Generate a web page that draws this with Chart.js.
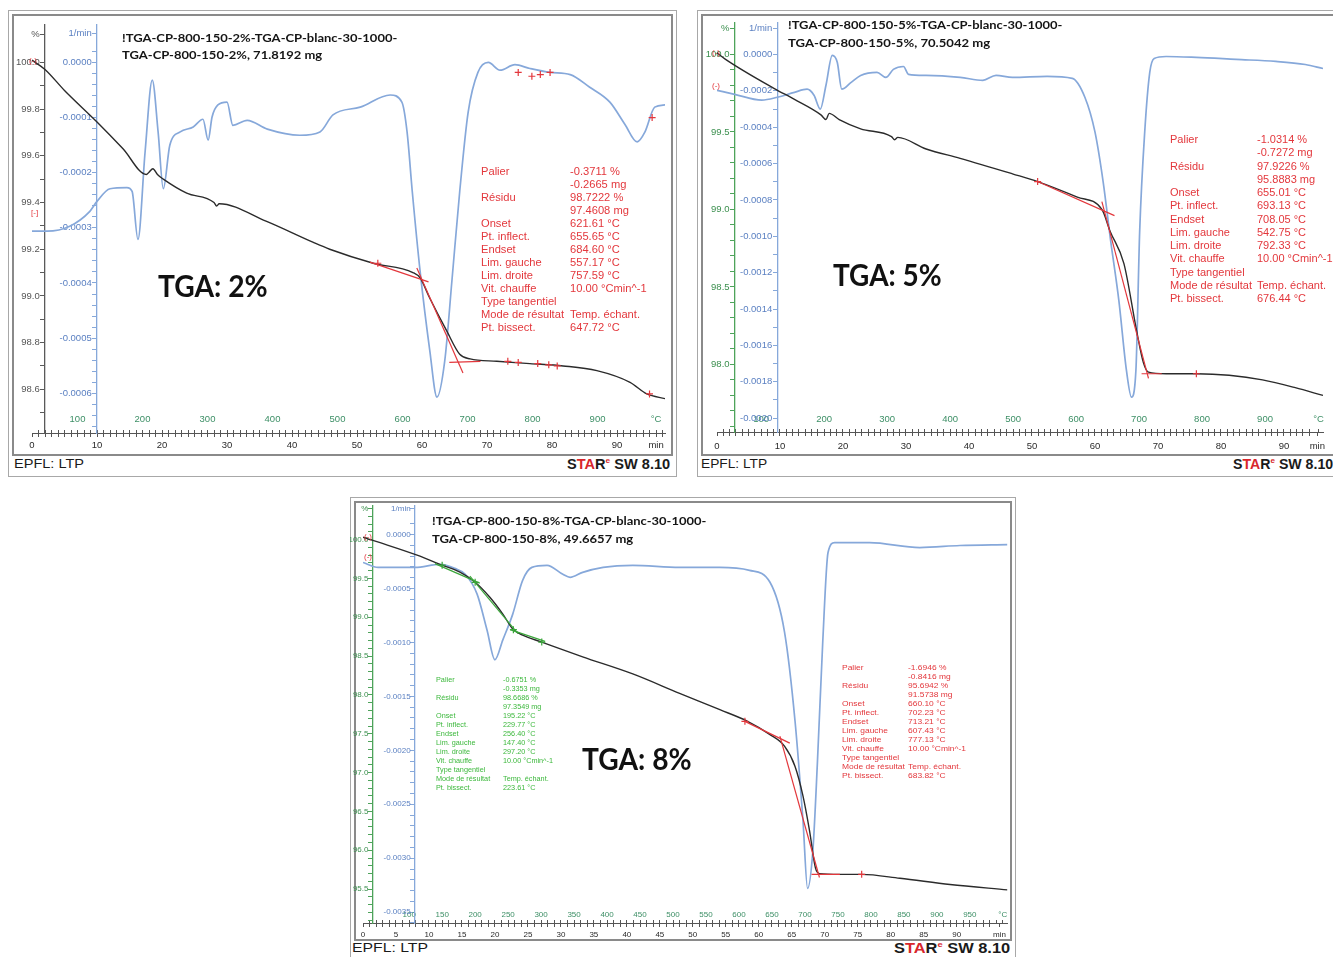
<!DOCTYPE html>
<html><head><meta charset="utf-8">
<script src="https://cdn.jsdelivr.net/npm/chart.js@4.4.1/dist/chart.umd.min.js"></script>
<style>
html,body{margin:0;padding:0;background:#fff;}
body{width:1333px;height:957px;position:relative;overflow:hidden;}
.abs{position:absolute;white-space:nowrap;line-height:1;}
.box{position:absolute;box-sizing:border-box;}
canvas{position:absolute;}
</style></head><body>
<div class="box" style="left:8px;top:10px;width:669px;height:467px;border:1px solid #a8a8a8"></div>
<div class="box" style="left:12px;top:14px;width:661px;height:442px;border:2px solid #8a8a8a"></div>
<div class="box" style="left:697px;top:10px;width:645px;height:467px;border:1px solid #a8a8a8"></div>
<div class="box" style="left:701px;top:14px;width:640px;height:442px;border:2px solid #8a8a8a"></div>
<div class="box" style="left:350px;top:497px;width:666px;height:470px;border:1px solid #a8a8a8"></div>
<div class="box" style="left:354px;top:501px;width:658px;height:440px;border:2px solid #8a8a8a"></div>
<script>
// ================= DATA =================
// Panel 1 : TGA 2 %
const p1MassTime = [0, 2, 5, 10, 14, 17.6, 18.0, 18.6, 19.3, 20.2, 23.8, 28.0, 28.4, 28.8, 36, 43.2, 45.8, 52.5, 58.6, 59.7, 61.2, 63.8, 65.8, 67.4, 71.5, 76.6, 81.7, 86.9, 92.0, 94.6, 97.4];
const p1Mass     = [100.01, 99.97, 99.88, 99.745, 99.63, 99.52, 99.53, 99.545, 99.52, 99.50, 99.44, 99.40, 99.385, 99.395, 99.32, 99.23, 99.20, 99.14, 99.10, 99.077, 98.99, 98.85, 98.75, 98.73, 98.72, 98.71, 98.70, 98.68, 98.63, 98.58, 98.56];
const p1DtgTime  = [0, 2.3, 5.8, 8.9, 10, 12, 14.6, 15.4, 16.3, 17.4, 18.5, 19.4, 20.2, 21.2, 22.8, 24.8, 26.3, 27.1, 27.7, 28.6, 30, 30.9, 33.1, 36.2, 41.2, 44.3, 46.3, 50.5, 55.1, 56.9, 57.7, 58.5, 59.7, 61.2, 62.3, 63.5, 64.6, 65.8, 67.1, 68.6, 70.2, 72, 74.3, 76.6, 79.7, 82.8, 85.8, 88.9, 91.2, 93.1, 94.3, 95.8, 97.4];
const p1Dtg      = [-3.06e-4, -3.06e-4, -2.97e-4, -2.70e-4, -2.52e-4, -2.29e-4, -2.27e-4, -2.34e-4, -3.21e-4, -1.62e-4, -0.32e-4, -1.26e-4, -2.29e-4, -1.5e-4, -1.26e-4, -1.17e-4, -1.03e-4, -1.41e-4, -0.99e-4, -0.77e-4, -0.72e-4, -1.14e-4, -1.05e-4, -1.21e-4, -1.32e-4, -1.26e-4, -0.95e-4, -0.81e-4, -0.59e-4, -0.72e-4, -1.26e-4, -2.34e-4, -3.78e-4, -5.23e-4, -6.07e-4, -5.41e-4, -3.96e-4, -2.34e-4, -0.90e-4, -0.18e-4, 0, -0.14e-4, -0.04e-4, -0.11e-4, -0.18e-4, -0.22e-4, -0.45e-4, -0.72e-4, -1.12e-4, -1.44e-4, -1.26e-4, -0.81e-4, -0.77e-4];
const p1Tangents = [[[52, 99.145], [61, 99.06]], [[59.2, 99.12], [66.3, 98.67]], [[64.2, 98.715], [69, 98.72]]];
const p1Marks    = [[53.2, 99.14], [73.2, 98.72], [74.8, 98.715], [77.8, 98.71], [79.5, 98.705], [80.8, 98.70], [95.0, 98.58]];
const p1DtgMarks = [[74.8, -0.18e-4], [76.9, -0.25e-4], [78.2, -0.22e-4], [79.7, -0.18e-4], [95.4, -1.0e-4]];
const p1TimeAt  = [0, 10, 20, 30, 40, 50, 60, 70, 80, 90, 96];
const p1TimeTxt = ['0', '10', '20', '30', '40', '50', '60', '70', '80', '90', 'min'];
const p1TempAt  = [100, 200, 300, 400, 500, 600, 700, 800, 900, 990];
const p1TempTxt = ['100', '200', '300', '400', '500', '600', '700', '800', '900', '°C'];
const p1PctAt   = [100.12, 100.0, 99.8, 99.6, 99.4, 99.2, 99.0, 98.8, 98.6];
const p1PctTxt  = ['%', '100.0', '99.8', '99.6', '99.4', '99.2', '99.0', '98.8', '98.6'];
const p1DtgAt   = [5.2e-5, 0, -1e-4, -2e-4, -3e-4, -4e-4, -5e-4, -6e-4];
const p1DtgTxt  = ['1/min', '0.0000', '-0.0001', '-0.0002', '-0.0003', '-0.0004', '-0.0005', '-0.0006'];
const p1Ann = [['Palier','-0.3711 %'],['','-0.2665 mg'],['Résidu','98.7222 %'],['','97.4608 mg'],['Onset','621.61 °C'],['Pt. inflect.','655.65 °C'],['Endset','684.60 °C'],['Lim. gauche','557.17 °C'],['Lim. droite','757.59 °C'],['Vit. chauffe','10.00 °Cmin^-1'],['Type tangentiel',''],['Mode de résultat','Temp. échant.'],['Pt. bissect.','647.72 °C']];

// Panel 2 : TGA 5 %
const p2MassTime = [0, 1.3, 9.1, 12.3, 16.5, 17.3, 17.8, 19.4, 22.8, 27.7, 28.2, 28.7, 33.2, 38.6, 46.9, 50.9, 57.2, 61.1, 62.4, 64.6, 66.6, 67.7, 68.5, 71.3, 76.1, 81.3, 86.6, 91.8, 96.2];
const p2Mass     = [100.01, 99.97, 99.78, 99.71, 99.61, 99.58, 99.62, 99.58, 99.52, 99.47, 99.45, 99.465, 99.39, 99.33, 99.23, 99.18, 99.08, 99.00, 98.86, 98.65, 98.22, 98.01, 97.95, 97.94, 97.94, 97.93, 97.90, 97.85, 97.80];
const p2DtgTime  = [0, 2.8, 7.1, 9.6, 12.3, 14.3, 15.4, 16.4, 17.3, 18.3, 19.1, 19.8, 21.3, 22.8, 25.4, 26.8, 28.0, 29.6, 30.4, 33.2, 38.6, 42.2, 44.3, 46.9, 52.4, 56.4, 58.4, 60.0, 61.3, 62.5, 63.8, 65.0, 65.8, 66.5, 67.1, 67.9, 68.7, 69.4, 71.3, 76.1, 82.4, 88.7, 93.4, 96.2];
const p2Dtg      = [-1.97e-4, -2.19e-4, -2.51e-4, -2.35e-4, -2.08e-4, -1.91e-4, -2.24e-4, -3.0e-4, -1.69e-4, -0.05e-4, -0.44e-4, -1.91e-4, -1.53e-4, -1.15e-4, -0.98e-4, -1.26e-4, -0.82e-4, -0.66e-4, -1.09e-4, -1.15e-4, -1.26e-4, -1.42e-4, -1.15e-4, -1.26e-4, -1.2e-4, -1.31e-4, -2.35e-4, -4.26e-4, -7.0e-4, -10.27e-4, -13.55e-4, -17.38e-4, -18.85e-4, -17.38e-4, -9.73e-4, -4.26e-4, -0.98e-4, -0.22e-4, -0.11e-4, -0.16e-4, -0.27e-4, -0.38e-4, -0.55e-4, -0.77e-4];
const p2Tangents = [[[50.9, 99.18], [63.1, 98.96]], [[61.1, 99.05], [68.5, 97.91]], [[67.4, 97.94], [70.6, 97.94]]];
const p2Marks    = [[50.9, 99.18], [76.1, 97.94]];
const p2TimeAt  = [0, 10, 20, 30, 40, 50, 60, 70, 80, 90, 95.3];
const p2TimeTxt = ['0', '10', '20', '30', '40', '50', '60', '70', '80', '90', 'min'];
const p2TempAt  = [100, 200, 300, 400, 500, 600, 700, 800, 900, 985];
const p2TempTxt = ['100', '200', '300', '400', '500', '600', '700', '800', '900', '°C'];
const p2PctAt   = [100.17, 100.0, 99.5, 99.0, 98.5, 98.0];
const p2PctTxt  = ['%', '100.0', '99.5', '99.0', '98.5', '98.0'];
const p2DtgAt   = [1.45e-4, 0, -2e-4, -4e-4, -6e-4, -8e-4, -10e-4, -12e-4, -14e-4, -16e-4, -18e-4, -20e-4];
const p2DtgTxt  = ['1/min', '0.0000', '-0.0002', '-0.0004', '-0.0006', '-0.0008', '-0.0010', '-0.0012', '-0.0014', '-0.0016', '-0.0018', '-0.0020'];
const p2Ann = [['Palier','-1.0314 %'],['','-0.7272 mg'],['Résidu','97.9226 %'],['','95.8883 mg'],['Onset','655.01 °C'],['Pt. inflect.','693.13 °C'],['Endset','708.05 °C'],['Lim. gauche','542.75 °C'],['Lim. droite','792.33 °C'],['Vit. chauffe','10.00 °Cmin^-1'],['Type tangentiel',''],['Mode de résultat','Temp. échant.'],['Pt. bissect.','676.44 °C']];

// Panel 3 : TGA 8 %
const p3MassTime = [0, 2.6, 8.2, 12.0, 14.7, 17.0, 19.2, 21.2, 22.7, 24.2, 27.1, 33.3, 40.9, 48.0, 54.1, 58.3, 61.7, 63.9, 65.5, 66.7, 67.7, 68.6, 69.2, 72.3, 75.6, 81.4, 89.0, 97.7];
const p3Mass     = [100.03, 99.96, 99.80, 99.67, 99.58, 99.45, 99.26, 99.04, 98.85, 98.77, 98.68, 98.49, 98.27, 98.02, 97.81, 97.66, 97.49, 97.34, 97.08, 96.70, 96.25, 95.77, 95.70, 95.69, 95.69, 95.64, 95.56, 95.49];
const p3DtgTime  = [0, 2.3, 4.8, 7.9, 11.7, 13.9, 15.5, 17.3, 18.8, 20.0, 21.2, 22.7, 24.2, 25.6, 27.9, 30.3, 31.4, 33.3, 36.4, 40.9, 48.0, 54.1, 58.6, 61.7, 63.9, 65.5, 66.7, 67.4, 68.2, 68.9, 69.7, 70.5, 71.5, 76.8, 84.4, 90.5, 97.7];
const p3Dtg      = [-2.58e-4, -3.04e-4, -3.04e-4, -3.04e-4, -2.76e-4, -3.13e-4, -3.68e-4, -5.52e-4, -8.84e-4, -11.6e-4, -9.76e-4, -7.37e-4, -4.24e-4, -3.04e-4, -2.85e-4, -3.68e-4, -3.96e-4, -3.50e-4, -3.04e-4, -2.85e-4, -3.04e-4, -3.04e-4, -3.31e-4, -4.42e-4, -9.02e-4, -17.3e-4, -26.5e-4, -32.8e-4, -29.3e-4, -21.0e-4, -9.94e-4, -1.66e-4, -0.74e-4, -0.74e-4, -1.20e-4, -1.01e-4, -0.92e-4];
const p3GreenTangents = [[[10.9, 99.69], [17.7, 99.44]], [[16.2, 99.53], [23.5, 98.79]], [[22.3, 98.84], [27.6, 98.69]]];
const p3GreenMarks    = [[12.0, 99.67], [17.0, 99.45], [22.8, 98.84], [27.1, 98.68]];
const p3RedTangents   = [[[57.9, 97.66], [64.7, 97.38]], [[63.2, 97.47], [69.2, 95.65]], [[68.0, 95.69], [72.3, 95.69]]];
const p3RedMarks      = [[57.9, 97.66], [75.6, 95.69]];
const p3TimeAt  = [0, 5, 10, 15, 20, 25, 30, 35, 40, 45, 50, 55, 60, 65, 70, 75, 80, 85, 90, 96.5];
const p3TimeTxt = ['0', '5', '10', '15', '20', '25', '30', '35', '40', '45', '50', '55', '60', '65', '70', '75', '80', '85', '90', 'min'];
const p3TempAt  = [100, 150, 200, 250, 300, 350, 400, 450, 500, 550, 600, 650, 700, 750, 800, 850, 900, 950, 1000];
const p3TempTxt = ['100', '150', '200', '250', '300', '350', '400', '450', '500', '550', '600', '650', '700', '750', '800', '850', '900', '950', '°C'];
const p3PctAt   = [100.40, 100.0, 99.5, 99.0, 98.5, 98.0, 97.5, 97.0, 96.5, 96.0, 95.5];
const p3PctTxt  = ['%', '100.0', '99.5', '99.0', '98.5', '98.0', '97.5', '97.0', '96.5', '96.0', '95.5'];
const p3DtgAt   = [2.4e-4, 0, -5e-4, -10e-4, -15e-4, -20e-4, -25e-4, -30e-4, -35e-4];
const p3DtgTxt  = ['1/min', '0.0000', '-0.0005', '-0.0010', '-0.0015', '-0.0020', '-0.0025', '-0.0030', '-0.0035'];
const p3GreenAnn = [['Palier','-0.6751 %'],['','-0.3353 mg'],['Résidu','98.6686 %'],['','97.3549 mg'],['Onset','195.22 °C'],['Pt. inflect.','229.77 °C'],['Endset','256.40 °C'],['Lim. gauche','147.40 °C'],['Lim. droite','297.20 °C'],['Vit. chauffe','10.00 °Cmin^-1'],['Type tangentiel',''],['Mode de résultat','Temp. échant.'],['Pt. bissect.','223.61 °C']];
const p3RedAnn = [['Palier','-1.6946 %'],['','-0.8416 mg'],['Résidu','95.6942 %'],['','91.5738 mg'],['Onset','660.10 °C'],['Pt. inflect.','702.23 °C'],['Endset','713.21 °C'],['Lim. gauche','607.43 °C'],['Lim. droite','777.13 °C'],['Vit. chauffe','10.00 °Cmin^-1'],['Type tangentiel',''],['Mode de résultat','Temp. échant.'],['Pt. bissect.','683.82 °C']];

// ================= HELPERS =================
const FONT = '"Liberation Sans", Arial, Helvetica, sans-serif';
Chart.defaults.font.family = FONT;
const RED = '#e3373c', GREEN_T = '#3cb83c', BLUE = '#86a8da', BLUE_TXT = '#5b80c2', GREEN_AX = '#4ea35a', GREEN_TXT = '#3b8f4e', TEMP_TXT = '#3d8f66';

function zip(a, b) { return a.map((v, i) => ({x: v, y: b[i]})); }
function pairs(arr) { return arr.map(p => ({x: p[0], y: p[1]})); }
function rng(a, b, step) { const out = []; const n = Math.round((b - a) / step); for (let i = 0; i <= n; i++) out.push(+(a + i * step).toFixed(9)); return out; }
function tickSet(minor, at, step) {
  const extra = at.filter(a => !minor.some(m => Math.abs(m - a) < step * 1e-6));
  const keep = minor.filter(m => !extra.some(a => Math.abs(a - m) < step * 0.75));
  return keep.concat(extra).sort((a, b) => a - b).map(v => ({value: v}));
}
function labeler(at, txt, suffix) {
  return v => { for (let i = 0; i < at.length; i++) if (Math.abs(at[i] - v) < 1e-9) return txt[i] + (suffix || ''); return ''; };
}

function panel(C) {
  const cv = document.createElement('canvas');
  cv.width = C.w; cv.height = C.h;
  Object.assign(cv.style, {left: C.left + 'px', top: C.top + 'px', width: C.w + 'px', height: C.h + 'px'});
  document.body.appendChild(cv);
  const ds = [
    {data: zip(C.dtgT, C.dtg), yAxisID: 'y2', borderColor: BLUE, borderWidth: 1.7, order: 3},
    {data: zip(C.massT, C.mass), yAxisID: 'y', borderColor: '#2b2b2b', borderWidth: 1.4, order: 2}
  ];
  C.tangents.forEach(t => t.segs.forEach(s => ds.push({data: pairs(s), yAxisID: 'y', borderColor: t.color, borderWidth: 1.2, order: 1, tension: 0, cubicInterpolationMode: 'default'})));
  C.marks.forEach(m => ds.push({data: pairs(m.pts), yAxisID: m.axis, showLine: false, pointStyle: 'cross', pointRadius: 3.5, pointBorderColor: m.color, pointBorderWidth: 1.2, order: 0}));
  const tf = {size: C.fs};
  new Chart(cv, {
    type: 'line',
    data: {datasets: ds},
    options: {
      responsive: false, animation: false, events: [], devicePixelRatio: 1,
      layout: {padding: C.pad, autoPadding: false},
      elements: {point: {radius: 0}, line: {cubicInterpolationMode: 'monotone', fill: false}},
      plugins: {legend: {display: false}, tooltip: {enabled: false}},
      scales: {
        x: {type: 'linear', min: 0, max: C.xMax, position: {y: C.yMin},
          afterBuildTicks: s => { s.ticks = tickSet(rng(0, C.tMinorMax, 1), C.timeAt, 1); },
          ticks: {autoSkip: false, maxRotation: 0, minRotation: 0, padding: C.timePad, color: '#2a2a2a', font: tf, callback: labeler(C.timeAt, C.timeTxt)},
          grid: {drawOnChartArea: false, tickLength: 3, tickColor: '#555', tickWidth: 1}, border: {color: '#555', width: 1}},
        x2: {type: 'linear', axis: 'x', min: 30, max: 30 + 10 * C.xMax, position: {y: C.yMin},
          afterBuildTicks: s => { s.ticks = tickSet(rng(40, C.tempMinorMax, 10), C.tempAt, 10); },
          ticks: {autoSkip: false, maxRotation: 0, minRotation: 0, padding: C.tempPad, color: TEMP_TXT, font: tf, callback: labeler(C.tempAt, C.tempTxt)},
          grid: {drawOnChartArea: false, tickLength: -3, tickColor: '#555', tickWidth: 1}, border: {display: false}},
        y: {type: 'linear', min: C.yMin, max: C.yMax, position: {x: C.pctAt},
          afterBuildTicks: s => { s.ticks = tickSet(rng(C.pctMinor[0], C.pctMinor[1], C.pctMinor[2]), C.pctLabAt, C.pctMinor[2]); },
          ticks: {autoSkip: false, color: C.pctTxt, font: tf, callback: labeler(C.pctLabAt, C.pctLabTxt, '  ')},
          grid: {drawOnChartArea: false, tickLength: 4, tickColor: C.pctAxis, tickWidth: 1}, border: {color: C.pctAxis, width: 1.3}},
        y2: {type: 'linear', axis: 'y', min: C.y2Min, max: C.y2Max, position: {x: C.dtgAt},
          afterBuildTicks: s => { s.ticks = tickSet(rng(C.dtgMinor[0], C.dtgMinor[1], C.dtgMinor[2]), C.dtgLabAt, C.dtgMinor[2]); },
          ticks: {autoSkip: false, color: BLUE_TXT, font: tf, callback: labeler(C.dtgLabAt, C.dtgLabTxt, '  ')},
          grid: {drawOnChartArea: false, tickLength: 4, tickColor: BLUE, tickWidth: 1}, border: {color: BLUE, width: 1.3}}
      }
    }
  });
}

function put(x, y, text, css, o) {
  o = o || {};
  const d = document.createElement('div');
  d.className = 'abs';
  d.style.cssText += css;
  if (o.html) d.innerHTML = text; else d.textContent = text;
  document.body.appendChild(d);
  let s = o.sx || 1;
  if (o.w) s = o.w / d.offsetWidth;
  const w = d.offsetWidth * s;
  const lx = o.align === 'right' ? x - w : x;
  d.style.left = lx + 'px'; d.style.top = y + 'px';
  d.style.transformOrigin = 'left center';
  d.style.transform = 'translateY(-50%) scaleX(' + s + ')';
  return d;
}
function annBlock(xl, xv, y0, dy, rows, css, vTarget) {
  const probe = put(0, 0, rows[9][1], css);
  const sx = vTarget / probe.offsetWidth; probe.remove();
  rows.forEach((r, i) => { const y = y0 + i * dy; if (r[0]) put(xl, y, r[0], css, {sx}); if (r[1]) put(xv, y, r[1], css, {sx}); });
}

// ================= PANELS =================
panel({left: 14, top: 16, w: 656, h: 438, pad: {left: 18, right: 5, top: 6, bottom: 21}, fs: 9.5,
  xMax: 97.38, yMin: 98.4128, yMax: 100.1617, y2Min: -6.721e-4, y2Max: 6.85e-5,
  tMinorMax: 97, tempMinorMax: 1000, timePad: 4, tempPad: -16.5,
  pctAt: 2.0, dtgAt: 10.0, pctAxis: '#5a5a5a', pctTxt: '#555',
  pctMinor: [98.5, 100.1, 0.1], dtgMinor: [-6.6e-4, 6e-5, 2e-5],
  massT: p1MassTime, mass: p1Mass, dtgT: p1DtgTime, dtg: p1Dtg,
  tangents: [{segs: p1Tangents, color: RED}],
  marks: [{pts: p1Marks, axis: 'y', color: RED}, {pts: p1DtgMarks, axis: 'y2', color: RED}],
  timeAt: p1TimeAt, timeTxt: p1TimeTxt, tempAt: p1TempAt, tempTxt: p1TempTxt,
  pctLabAt: p1PctAt, pctLabTxt: p1PctTxt, dtgLabAt: p1DtgAt, dtgLabTxt: p1DtgTxt});

panel({left: 703, top: 14, w: 628, h: 440, pad: {left: 14, right: 3, top: 6, bottom: 22}, fs: 9.5,
  xMax: 96.22, yMin: 97.564, yMax: 100.205, y2Min: -2.0765e-3, y2Max: 1.749e-4,
  tMinorMax: 96, tempMinorMax: 990, timePad: 6, tempPad: -15.5,
  pctAt: 2.83, dtgAt: 9.6, pctAxis: GREEN_AX, pctTxt: GREEN_TXT,
  pctMinor: [97.6, 100.2, 0.1], dtgMinor: [-2.0e-3, 1e-4, 1e-4],
  massT: p2MassTime, mass: p2Mass, dtgT: p2DtgTime, dtg: p2Dtg,
  tangents: [{segs: p2Tangents, color: RED}],
  marks: [{pts: p2Marks, axis: 'y', color: RED}],
  timeAt: p2TimeAt, timeTxt: p2TimeTxt, tempAt: p2TempAt, tempTxt: p2TempTxt,
  pctLabAt: p2PctAt, pctLabTxt: p2PctTxt, dtgLabAt: p2DtgAt, dtgLabTxt: p2DtgTxt});

panel({left: 350, top: 498, w: 660, h: 441, pad: {left: 13, right: 2, top: 5, bottom: 16}, fs: 8,
  xMax: 97.7, yMin: 95.064, yMax: 100.435, y2Min: -3.6004e-3, y2Max: 2.67e-4,
  tMinorMax: 97, tempMinorMax: 1000, timePad: 4, tempPad: -10,
  pctAt: 1.5, dtgAt: 7.9, pctAxis: GREEN_AX, pctTxt: GREEN_TXT,
  pctMinor: [95.1, 100.4, 0.1], dtgMinor: [-3.6e-3, 2e-4, 1e-4],
  massT: p3MassTime, mass: p3Mass, dtgT: p3DtgTime, dtg: p3Dtg,
  tangents: [{segs: p3GreenTangents, color: '#3aa63a'}, {segs: p3RedTangents, color: RED}],
  marks: [{pts: p3GreenMarks, axis: 'y', color: '#3aa63a'}, {pts: p3RedMarks, axis: 'y', color: RED}],
  timeAt: p3TimeAt, timeTxt: p3TimeTxt, tempAt: p3TempAt, tempTxt: p3TempTxt,
  pctLabAt: p3PctAt, pctLabTxt: p3PctTxt, dtgLabAt: p3DtgAt, dtgLabTxt: p3DtgTxt});

// ================= TEXT =================
const TITLE = 'font-family:Lato,"Open Sans",sans-serif;font-weight:700;font-size:12px;color:#151515;';
const BIG = 'font-family:Lato,"Open Sans",sans-serif;font-weight:700;font-size:30px;color:#111;';
const ANN = 'font-family:"Liberation Sans Narrow","Liberation Sans",Arial,sans-serif;font-size:11px;color:' + RED + ';';
const FOOT = 'font-family:"Liberation Sans",Arial,sans-serif;font-size:13.5px;color:#1a1a1a;';
const STAR = 'font-family:"Liberation Sans",Arial,sans-serif;font-size:14px;font-weight:700;color:#1a1a1a;';
const STARHTML = 'S<span style="color:#d8262c">TA</span>R<span style="color:#d8262c;font-size:8px;vertical-align:6px">e</span> SW 8.10';
const SMALLRED = 'font-family:"Liberation Sans",Arial,sans-serif;font-size:8px;color:' + RED + ';';

// Panel 1
put(122, 38, '!TGA-CP-800-150-2%-TGA-CP-blanc-30-1000-', TITLE, {w: 275});
put(122, 55, 'TGA-CP-800-150-2%, 71.8192 mg', TITLE, {w: 200});
put(158, 285, 'TGA: 2%', BIG, {w: 110});
annBlock(481, 570, 171, 13, p1Ann, ANN, 77);
put(14, 464, 'EPFL: LTP', FOOT, {w: 70});
put(670, 464, STARHTML, STAR, {html: true, align: 'right', w: 103});
put(29, 61, '(-)', SMALLRED); put(31, 213, '[-]', SMALLRED);

// Panel 2
put(788, 25, '!TGA-CP-800-150-5%-TGA-CP-blanc-30-1000-', TITLE, {w: 274});
put(788, 43, 'TGA-CP-800-150-5%, 70.5042 mg', TITLE, {w: 202});
put(833, 274, 'TGA: 5%', BIG, {w: 109});
annBlock(1170, 1257, 139, 13.25, p2Ann, ANN, 76);
put(701, 464, 'EPFL: LTP', FOOT, {w: 66});
put(1333, 464, STARHTML, STAR, {html: true, align: 'right', w: 100});
put(712, 53, '(-)', SMALLRED); put(712, 86, '(-)', SMALLRED);

// Panel 3
put(432, 521, '!TGA-CP-800-150-8%-TGA-CP-blanc-30-1000-', TITLE, {w: 274});
put(432, 539, 'TGA-CP-800-150-8%, 49.6657 mg', TITLE, {w: 201});
put(582, 758, 'TGA: 8%', BIG, {w: 110});
annBlock(436, 503, 680, 9, p3GreenAnn, ANN.replace(RED, GREEN_T).replace('11px', '8px'), 50);
annBlock(842, 908, 668, 9, p3RedAnn, ANN.replace('11px', '8px'), 58);
put(352, 948, 'EPFL: LTP', FOOT, {w: 76});
put(1010, 948, STARHTML, STAR, {html: true, align: 'right', w: 116});
put(364, 537, '(-)', SMALLRED); put(364, 557, '(-)', SMALLRED);
</script>
</body></html>
